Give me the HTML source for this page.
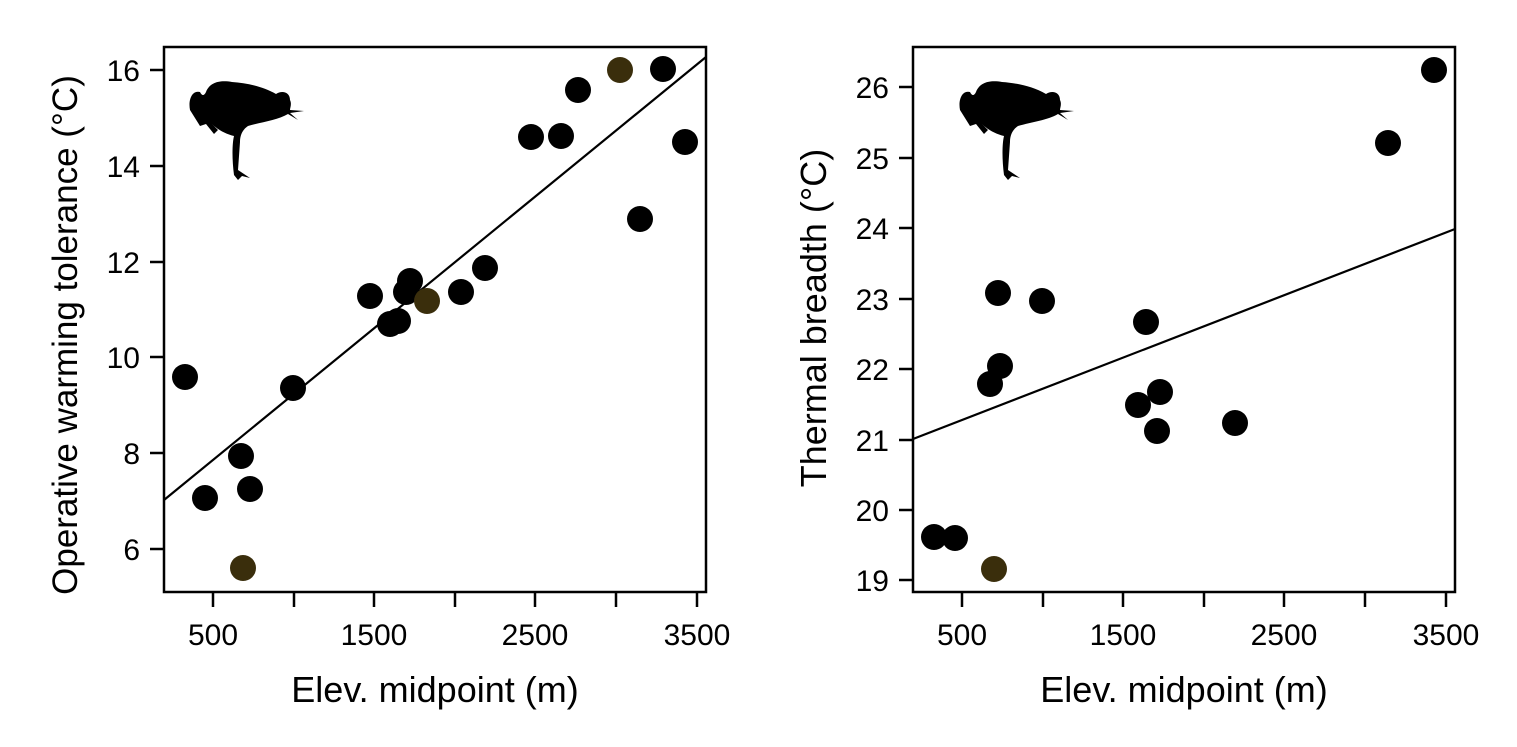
<!DOCTYPE html>
<html><head><style>body{margin:0;background:#fff}</style></head><body>
<svg width="1517" height="742" xmlns="http://www.w3.org/2000/svg" font-family="Liberation Sans, Arial, sans-serif">
<defs>
<g id="frog">
<path d="M0,30 C-2,20 2,10 10,12 C12,16 14,16 16,12 C20,2 30,0 42,2 C56,3 72,6 86,14 C92,10 100,12 100,20 C102,24 100,28 100,30 L114,31 L100,33 L108,40 L98,34 C88,40 72,42 58,46 C52,50 50,56 50,62 L48,90 L60,98 L52,96 L48,100 L44,95 C42,80 42,64 44,56 C36,54 28,50 22,44 L28,50 L24,54 L16,44 L10,46 Z" fill="#000"/>
</g>
</defs>
<g stroke="#000" stroke-width="2.5" fill="none">
<rect x="164" y="47" width="542" height="545"/>
<rect x="913" y="47" width="542" height="545"/>
</g>
<g stroke="#000" stroke-width="2.5">
<path d="M213,592v15M294,592v15M374,592v15M455,592v15M535,592v15M616,592v15M697,592v15"/>
<path d="M962,592v15M1043,592v15M1123,592v15M1204,592v15M1284,592v15M1365,592v15M1446,592v15"/>
<path d="M164,549h-14M164,453h-14M164,357h-14M164,262h-14M164,166h-14M164,70h-14"/>
<path d="M913,580h-14M913,510h-14M913,440h-14M913,369h-14M913,299h-14M913,228h-14M913,158h-14M913,87h-14"/>
</g>
<g font-size="30" text-anchor="middle">
<text x="213" y="645">500</text><text x="374" y="645">1500</text><text x="535" y="645">2500</text><text x="697" y="645">3500</text>
<text x="962" y="645">500</text><text x="1123" y="645">1500</text><text x="1284" y="645">2500</text><text x="1446" y="645">3500</text>
</g>
<g font-size="30" text-anchor="end">
<text x="140" y="560">6</text><text x="140" y="464">8</text><text x="140" y="368">10</text><text x="140" y="273">12</text><text x="140" y="177">14</text><text x="140" y="81">16</text>
<text x="889" y="591">19</text><text x="889" y="521">20</text><text x="889" y="451">21</text><text x="889" y="380">22</text><text x="889" y="310">23</text><text x="889" y="239">24</text><text x="889" y="169">25</text><text x="889" y="98">26</text>
</g>
<g font-size="36" text-anchor="middle">
<text x="435" y="702">Elev. midpoint (m)</text>
<text x="1184" y="702">Elev. midpoint (m)</text>
<text transform="translate(77,335) rotate(-90)" font-size="35">Operative warming tolerance  (°C)</text>
<text transform="translate(826,318) rotate(-90)">Thermal breadth  (°C)</text>
</g>
<line x1="164" y1="500" x2="706" y2="57" stroke="#000" stroke-width="2.2"/>
<line x1="913" y1="439" x2="1455" y2="229" stroke="#000" stroke-width="2.2"/>
<g fill="#000">
<circle cx="185" cy="377" r="13"/><circle cx="205" cy="498" r="13"/><circle cx="241" cy="456" r="13"/><circle cx="250" cy="489" r="13"/>
<circle cx="293" cy="388" r="13"/><circle cx="370" cy="296" r="13"/><circle cx="390" cy="324" r="13"/><circle cx="398" cy="321" r="13"/>
<circle cx="406" cy="292" r="13"/><circle cx="410" cy="281" r="13"/><circle cx="461" cy="292" r="13"/><circle cx="485" cy="268" r="13"/>
<circle cx="531" cy="137" r="13"/><circle cx="561" cy="136" r="13"/><circle cx="578" cy="90" r="13"/><circle cx="640" cy="219" r="13"/>
<circle cx="663" cy="69" r="13"/><circle cx="685" cy="142" r="13"/>
<circle cx="934" cy="537" r="13"/><circle cx="955" cy="538" r="13"/><circle cx="990" cy="384" r="13"/><circle cx="998" cy="293" r="13"/>
<circle cx="1000" cy="366" r="13"/><circle cx="1042" cy="301" r="13"/><circle cx="1138" cy="405" r="13"/><circle cx="1146" cy="322" r="13"/>
<circle cx="1157" cy="431" r="13"/><circle cx="1160" cy="392" r="13"/><circle cx="1235" cy="423" r="13"/><circle cx="1388" cy="143" r="13"/>
<circle cx="1434" cy="70" r="13"/>
</g>
<g fill="#3a2e0c">
<circle cx="243" cy="568" r="13"/><circle cx="427" cy="301" r="13"/><circle cx="620" cy="70" r="13"/><circle cx="994" cy="569" r="13"/>
</g>
<use href="#frog" x="190" y="80"/>
<use href="#frog" x="960" y="80"/>
</svg>
</body></html>
